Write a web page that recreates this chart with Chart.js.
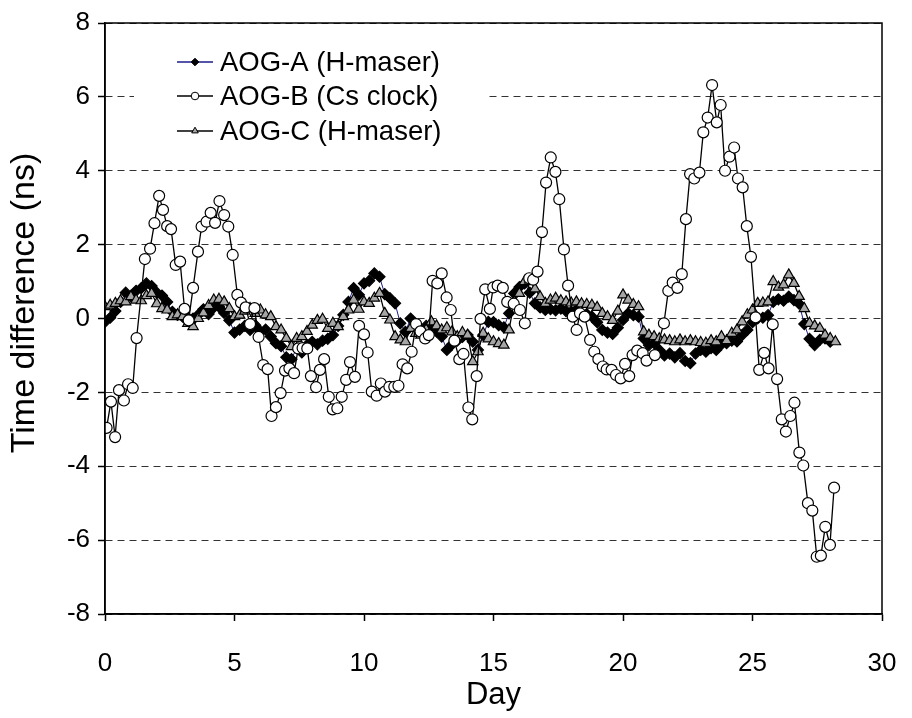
<!DOCTYPE html>
<html>
<head>
    <title>AOG time difference</title>
    <script src="https://cdn.jsdelivr.net/npm/chart.js"></script>
    <style>
        html, body {
            margin: 0;
            padding: 0;
            background: white;
        }
        #wrap {
            width: 912px;
            height: 718px;
        }
    </style>
</head>
<body>
    <div id="wrap"><canvas id="tdChart" width="912" height="718"></canvas></div>
    <script>
        // day axis and y ticks
        const dayTicks = [0, 5, 10, 15, 20, 25, 30];
        const nsTicks = [-8, -6, -4, -2, 0, 2, 4, 6, 8];

        const seriesNames = ['AOG-A (H-maser)', 'AOG-B (Cs clock)', 'AOG-C (H-maser)'];
        const yTitle = 'Time difference (ns)';

        // AOG-A, H-maser
        const aDays = [
            0.0, 0.2, 0.4, 0.6, 0.8, 1.0, 1.2, 1.4, 1.6, 1.8,
            2.0, 2.2, 2.4, 2.6, 2.8, 3.0, 3.2, 3.4, 3.6, 3.8,
            4.0, 4.2, 4.4, 4.6, 4.8, 5.0, 5.2, 5.4, 5.6, 5.8,
            6.0, 6.2, 6.4, 6.6, 6.8, 7.0, 7.2, 7.4, 7.6, 7.8,
            8.0, 8.2, 8.4, 8.6, 8.8, 9.0, 9.2, 9.4, 9.6, 9.8,
            10.0, 10.2, 10.4, 10.6, 10.8, 11.0, 11.2, 11.4, 11.6, 11.8,
            12.0, 12.2, 12.4, 12.6, 12.8, 13.0, 13.2, 13.4, 13.6, 13.8,
            14.0, 14.2, 14.4, 14.6, 14.8, 15.0, 15.2, 15.4, 15.6, 15.8,
            16.0, 16.2, 16.4, 16.6, 16.8, 17.0, 17.2, 17.4, 17.6, 17.8,
            18.0, 18.2, 18.4, 18.6, 18.8, 19.0, 19.2, 19.4, 19.6, 19.8,
            20.0, 20.2, 20.4, 20.6, 20.8, 21.0, 21.2, 21.4, 21.6, 21.8,
            22.0, 22.2, 22.4, 22.6, 22.8, 23.0, 23.2, 23.4, 23.6, 23.8,
            24.0, 24.2, 24.4, 24.6, 24.8, 25.0, 25.2, 25.4, 25.6, 25.8,
            26.0, 26.2, 26.4, 26.6, 26.8, 27.0, 27.2, 27.4, 27.6, 27.8,
            28.0
        ];
        const aVals = [
            -0.09, 0.02, 0.20, 0.45, 0.70, 0.60, 0.75, 0.82, 0.95, 0.88,
            0.70, 0.62, 0.45, 0.18, 0.10, 0.05, 0.02, 0.00, 0.10, 0.25,
            0.12, 0.30, 0.32, 0.15, -0.05, -0.38, -0.30, -0.20, -0.31, -0.18,
            -0.35, -0.30, -0.49, -0.67, -0.75, -1.05, -1.10, -0.80, -0.92, -0.72,
            -0.63, -0.70, -0.60, -0.55, -0.45, -0.20, 0.10, 0.45, 0.82, 0.64,
            0.95, 1.02, 1.22, 1.13, 0.66, 0.55, 0.41, -0.13, -0.36, 0.00,
            -0.15, -0.30, -0.20, -0.22, -0.35, -0.49, -0.85, -0.70, -0.60, -0.50,
            -0.45, -0.63, -0.85, -0.45, -0.09, -0.10, -0.18, -0.24, 0.14, 0.68,
            0.85, 0.95, 0.70, 0.41, 0.30, 0.23, 0.25, 0.22, 0.27, 0.20,
            0.18, 0.23, 0.12, 0.12, 0.05, -0.10, -0.31, -0.38, -0.42, -0.25,
            -0.04, 0.14, 0.09, 0.05, -0.54, -0.72, -0.67, -0.85, -1.00, -0.95,
            -1.05, -0.94, -1.15, -1.21, -0.95, -0.85, -0.90, -0.80, -0.85, -0.70,
            -0.67, -0.60, -0.62, -0.45, -0.31, -0.10, 0.00, 0.02, 0.09, 0.45,
            0.52, 0.48, 0.59, 0.50, 0.40, -0.15, -0.55, -0.72, -0.58, -0.54,
            -0.63
        ];

        // AOG-B, Cs clock
        const bDays = [
            0.06, 0.23, 0.39, 0.54, 0.73, 0.89, 1.07, 1.22, 1.54, 1.74,
            1.91, 2.09, 2.24, 2.40, 2.55, 2.73, 2.90, 3.07, 3.23, 3.40,
            3.59, 3.73, 3.92, 4.08, 4.25, 4.42, 4.60, 4.76, 4.93, 5.11,
            5.25, 5.43, 5.60, 5.77, 5.93, 6.11, 6.28, 6.43, 6.60, 6.78,
            6.95, 7.12, 7.30, 7.46, 7.63, 7.81, 7.95, 8.15, 8.30, 8.46,
            8.64, 8.79, 8.97, 9.14, 9.31, 9.46, 9.65, 9.81, 10.00, 10.14,
            10.30, 10.49, 10.65, 10.81, 10.98, 11.17, 11.33, 11.49, 11.67, 11.84,
            12.01, 12.18, 12.36, 12.50, 12.65, 12.83, 13.00, 13.19, 13.35, 13.49,
            13.68, 13.84, 14.03, 14.18, 14.35, 14.50, 14.68, 14.86, 14.99, 15.16,
            15.36, 15.53, 15.78, 16.02, 16.21, 16.38, 16.53, 16.70, 16.87, 17.03,
            17.21, 17.39, 17.54, 17.72, 17.88, 18.06, 18.21, 18.34, 18.52, 18.73,
            18.89, 19.05, 19.22, 19.37, 19.56, 19.73, 19.91, 20.08, 20.24, 20.37,
            20.55, 20.76, 20.91, 21.23, 21.58, 21.75, 21.92, 22.10, 22.27, 22.43,
            22.59, 22.75, 22.95, 23.10, 23.27, 23.44, 23.62, 23.77, 23.94, 24.11,
            24.29, 24.44, 24.62, 24.78, 24.94, 25.12, 25.26, 25.45, 25.62, 25.78,
            25.95, 26.13, 26.29, 26.46, 26.62, 26.81, 26.96, 27.14, 27.31, 27.48,
            27.64, 27.81, 27.99, 28.15
        ];
        const bVals = [
            -2.96, -2.25, -3.21, -1.94, -2.22, -1.78, -1.88, -0.53, 1.61, 1.89,
            2.58, 3.32, 2.94, 2.50, 2.42, 1.45, 1.54, 0.26, -0.05, 0.83,
            1.81, 2.49, 2.62, 2.86, 2.59, 3.18, 2.80, 2.49, 1.72, 0.64,
            0.43, 0.30, -0.15, 0.28, -0.50, -1.26, -1.37, -2.64, -2.40, -2.02,
            -1.41, -1.35, -1.48, -0.81, -0.80, -0.81, -1.56, -1.86, -1.39, -1.10,
            -2.12, -2.46, -2.43, -2.12, -1.66, -1.18, -1.58, -0.20, -0.43, -0.92,
            -1.98, -2.09, -1.76, -1.98, -1.85, -1.85, -1.82, -1.24, -1.35, -0.90,
            -0.15, -0.35, -0.54, -0.45, 1.02, 0.95, 1.22, 0.57, 0.23, -0.60,
            -1.10, -0.96, -2.41, -2.73, -1.56, -0.01, 0.79, 0.26, 0.84, 0.89,
            0.83, 0.45, 0.40, 0.23, -0.13, 1.09, 1.05, 1.27, 2.34, 3.68,
            4.36, 3.97, 3.23, 1.87, 0.89, 0.05, -0.31, 0.14, 0.05, -0.58,
            -0.90, -1.10, -1.30, -1.38, -1.39, -1.53, -1.62, -1.23, -1.56, -0.99,
            -0.87, -0.94, -1.14, -0.99, -0.13, 0.75, 0.97, 0.83, 1.20, 2.69,
            3.91, 3.79, 3.95, 5.04, 5.44, 6.32, 5.31, 5.78, 4.00, 4.38,
            4.63, 3.79, 3.55, 2.50, 1.67, 0.03, -1.39, -0.93, -1.35, -0.16,
            -1.64, -2.73, -3.06, -2.64, -2.28, -3.63, -3.98, -5.00, -5.20, -6.45,
            -6.42, -5.64, -6.13, -4.58
        ];

        // AOG-C, H-maser
        const cDays = aDays.concat([28.2]);
        const cVals = [
            0.32, 0.36, 0.41, 0.48, 0.45, 0.59, 0.50, 0.48, 0.62, 0.68,
            0.40, 0.27, 0.23, 0.05, 0.10, 0.05, -0.13, -0.22, 0.00, 0.15,
            0.35, 0.50, 0.52, 0.45, 0.27, 0.05, 0.09, 0.20, 0.27, 0.14,
            0.23, 0.10, 0.05, -0.22, -0.31, -0.54, -0.76, -0.54, -0.49, -0.35,
            -0.18, -0.05, -0.02, -0.27, -0.13, -0.22, 0.05, 0.23, 0.50, 0.25,
            0.45, 0.41, 0.55, 0.68, 0.14, -0.04, -0.49, -0.58, -0.63, -0.27,
            -0.40, -0.45, -0.30, -0.09, -0.20, -0.31, -0.25, -0.36, -0.49, -0.38,
            -0.45, -1.17, -0.90, -0.40, -0.55, -0.63, -0.68, -0.72, -0.31, 0.45,
            0.68, 1.00, 1.04, 0.80, 0.59, 0.41, 0.50, 0.55, 0.48, 0.45,
            0.42, 0.45, 0.40, 0.38, 0.36, 0.30, 0.14, 0.05, -0.05, 0.20,
            0.64, 0.50, 0.38, 0.32, -0.36, -0.45, -0.49, -0.55, -0.58, -0.60,
            -0.63, -0.58, -0.63, -0.60, -0.63, -0.65, -0.67, -0.60, -0.63, -0.49,
            -0.60, -0.40, -0.31, -0.09, 0.10, 0.23, 0.41, 0.42, 0.45, 1.00,
            0.85, 0.91, 1.18, 0.95, 0.60, 0.27, -0.13, -0.20, -0.27, -0.45,
            -0.54, -0.63
        ];

        function toPoints(days, vals) {
            return days.map((d, i) => ({ x: d, y: vals[i] }));
        }

        const FONT = 'Arial, "Liberation Sans", sans-serif';

        const seriesStyles = [
            { line: '#1c1c8a', lineWidth: 1, pointStyle: 'rectRot', radius: 5.5, fill: '#000000', stroke: '#000000' },
            { line: '#000000', lineWidth: 1.3, pointStyle: 'circle', radius: 5.5, fill: '#ffffff', stroke: '#000000' },
            { line: '#000000', lineWidth: 1.3, pointStyle: 'triangle', radius: 6, fill: '#a6a6a6', stroke: '#000000' }
        ];

        // box round the plot area, plus the y title sitting a little above centre
        const framePlugin = {
            id: 'frame',
            afterDraw(chart) {
                const { ctx, chartArea: a } = chart;
                ctx.save();
                ctx.strokeStyle = '#000';
                ctx.lineWidth = 1.5;
                ctx.strokeRect(a.left, a.top, a.right - a.left, a.bottom - a.top);

                ctx.translate(25, 303);
                ctx.rotate(-Math.PI / 2);
                ctx.fillStyle = '#000';
                ctx.font = '34px ' + FONT;
                ctx.textAlign = 'center';
                ctx.textBaseline = 'middle';
                ctx.fillText(yTitle, 0, 0);
                ctx.restore();
            }
        };

        // legend drawn inside the plot, on a white box
        const insideLegend = {
            id: 'insideLegend',
            afterDatasetsDraw(chart) {
                const ctx = chart.ctx;
                ctx.save();
                ctx.fillStyle = '#fff';
                ctx.fillRect(134, 40, 352, 110);
                ctx.font = '27.5px ' + FONT;
                ctx.textBaseline = 'middle';
                const rows = [62, 96, 131];
                seriesNames.forEach((name, i) => {
                    const s = seriesStyles[i];
                    const y = rows[i];
                    ctx.strokeStyle = s.line;
                    ctx.lineWidth = 1.3;
                    ctx.beginPath();
                    ctx.moveTo(177, y);
                    ctx.lineTo(213, y);
                    ctx.stroke();
                    ctx.fillStyle = s.fill;
                    ctx.strokeStyle = s.stroke;
                    ctx.lineWidth = 1;
                    Chart.helpers.drawPoint(ctx, {
                        pointStyle: s.pointStyle, radius: 3.8, rotation: 0, borderWidth: 1
                    }, 195, y);
                    ctx.fillStyle = '#000';
                    ctx.fillText(name, 220, y + 1);
                });
                ctx.restore();
            }
        };

        const datasets = [
            toPoints(aDays, aVals), toPoints(bDays, bVals), toPoints(cDays, cVals)
        ].map((pts, i) => {
            const s = seriesStyles[i];
            return {
                label: seriesNames[i],
                data: pts,
                showLine: true,
                borderColor: s.line,
                borderWidth: s.lineWidth,
                pointStyle: s.pointStyle,
                pointRadius: s.radius,
                pointBackgroundColor: s.fill,
                pointBorderColor: s.stroke,
                pointBorderWidth: 1.2,
                tension: 0,
                // circles on top, then triangles, diamonds underneath
                order: [2, 0, 1][i]
            };
        });

        new Chart(document.getElementById('tdChart'), {
            type: 'scatter',
            data: { datasets: datasets },
            plugins: [insideLegend, framePlugin],
            options: {
                responsive: false,
                animation: false,
                events: [],
                layout: { padding: { left: 0, right: 30, top: 23, bottom: 0 } },
                plugins: {
                    legend: { display: false },
                    tooltip: { enabled: false }
                },
                scales: {
                    x: {
                        type: 'linear',
                        min: 0,
                        max: 30,
                        afterBuildTicks(scale) {
                            scale.ticks = dayTicks.map(v => ({ value: v }));
                        },
                        afterFit(scale) {
                            scale.height = 104;
                            scale.paddingLeft = 0;
                            scale.paddingRight = 0;
                        },
                        border: { display: true, color: '#000', width: 1.5 },
                        grid: {
                            drawOnChartArea: false,
                            drawTicks: true,
                            tickLength: 7,
                            tickColor: '#000',
                            tickWidth: 1.5
                        },
                        ticks: {
                            color: '#000',
                            padding: 27,
                            maxRotation: 0,
                            font: { family: FONT, size: 26 }
                        },
                        title: {
                            display: true,
                            text: 'Day',
                            color: '#000',
                            padding: { top: 0, bottom: 4 },
                            font: { family: FONT, size: 31 }
                        }
                    },
                    y: {
                        type: 'linear',
                        min: -8,
                        max: 8,
                        afterBuildTicks(scale) {
                            scale.ticks = nsTicks.map(v => ({ value: v }));
                        },
                        afterFit(scale) {
                            scale.width = 105;
                            scale.paddingTop = 0;
                            scale.paddingBottom = 0;
                        },
                        // in v4 the dash of the grid lines comes from border.dash
                        border: { display: true, color: '#000', width: 1.5, dash: [7, 5] },
                        grid: {
                            color: '#333',
                            lineWidth: 1,
                            drawTicks: true,
                            tickLength: 7,
                            tickColor: '#000',
                            tickWidth: 1.5,
                            tickBorderDash: []
                        },
                        ticks: {
                            color: '#000',
                            padding: 8,
                            font: { family: FONT, size: 26 }
                        }
                    }
                }
            }
        });
    </script>
</body>
</html>
